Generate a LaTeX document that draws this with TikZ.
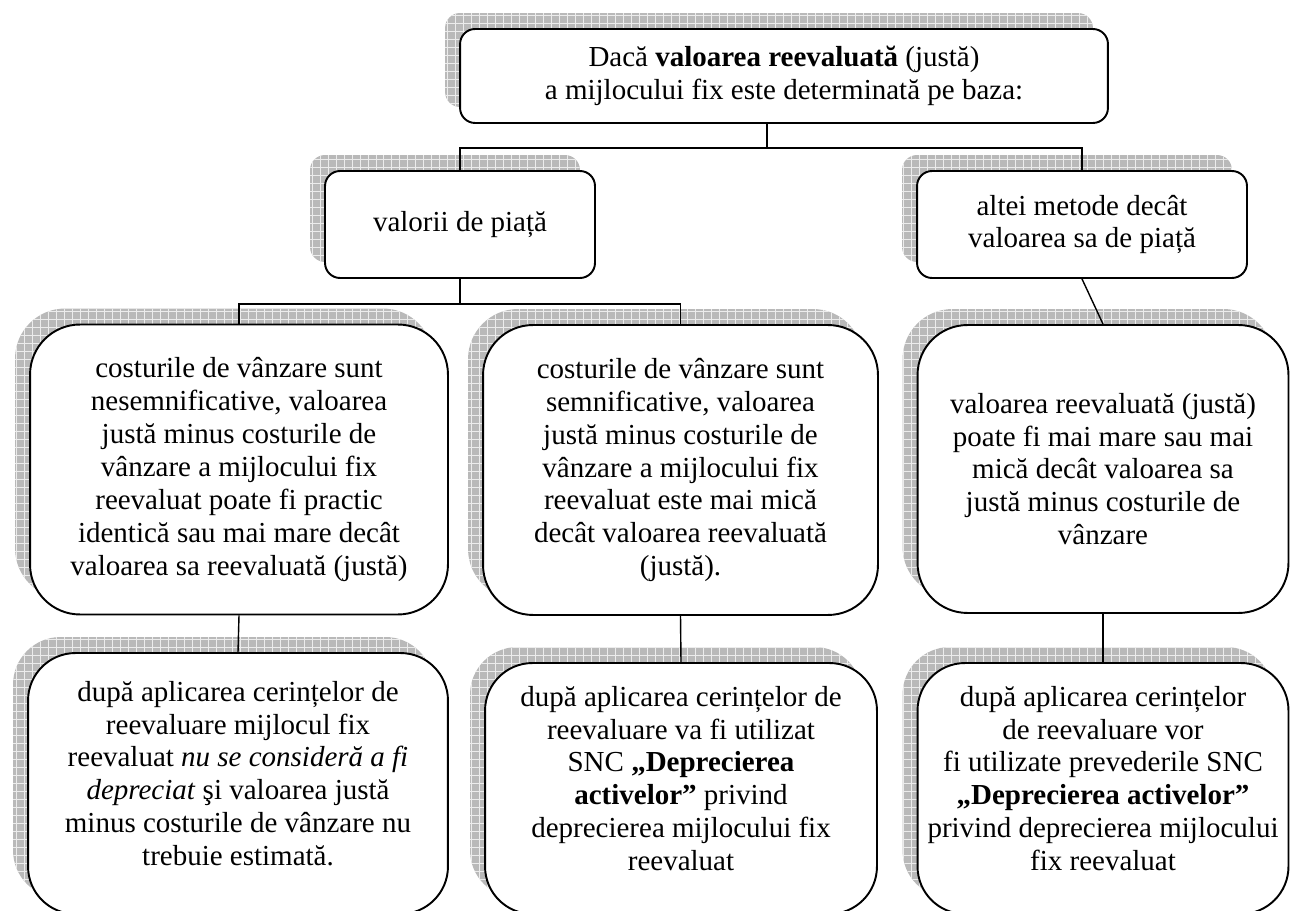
\documentclass[tikz,border=0pt]{standalone}
\usepackage{fontspec}
\setmainfont{Liberation Serif}
\usetikzlibrary{shadows,patterns.meta}
\tikzset{
  box/.style={draw, line width=1.1pt, fill=white, align=center, inner sep=0pt,
    general shadow={fill=gray!55, shadow xshift=-0.3cm, shadow yshift=0.32cm},
    general shadow={pattern={Hatch[angle=0, distance=0.16cm, line width=0.5pt]}, pattern color=gray!15, shadow xshift=-0.3cm, shadow yshift=0.32cm},
    font=\fontsize{16.5}{18.7}\selectfont},
  small/.style={box, rounded corners=0.3cm},
  big/.style={box, rounded corners=1cm},
  link/.style={line width=0.8pt}
}
\begin{document}
\begin{tikzpicture}[x=0.02cm, y=-0.02cm]
\useasboundingbox (0,0) rectangle (1290,911);
\clip (0,0) rectangle (1290,911);
\node[small, minimum width=12.96cm, minimum height=1.88cm] (top) at (784,76) {Dacă \textbf{valoarea reevaluată} (justă)\\a mijlocului fix este determinată pe baza:};
\node[small, minimum width=5.4cm, minimum height=2.14cm] (piata) at (460,224.5) {valorii de piață};
\node[small, minimum width=6.6cm, minimum height=2.14cm] (metoda) at (1082,224.5) {altei metode decât\\valoarea sa de piață};
\node[big, minimum width=8.36cm, minimum height=5.8cm] (nesemn) at (239,469.5) {costurile de vânzare sunt\\nesemnificative, valoarea\\justă minus costurile de\\vânzare a mijlocului fix\\reevaluat poate fi practic\\identică sau mai mare decât\\valoarea sa reevaluată (justă)};
\node[big, minimum width=7.9cm, minimum height=5.8cm] (semn) at (680.5,470) {costurile de vânzare sunt\\semnificative, valoarea\\justă minus costurile de\\vânzare a mijlocului fix\\reevaluat este mai mică\\decât valoarea reevaluată\\(justă).};
\node[big, minimum width=7.42cm, minimum height=5.76cm] (alta) at (1103,469) {valoarea reevaluată (justă)\\poate fi mai mare sau mai\\mică decât valoarea sa\\justă minus costurile de\\vânzare};
\node[big, rounded corners=0.95cm, minimum width=8.4cm, minimum height=5.22cm] (nedepr) at (238,783.5) {după aplicarea cerințelor de\\reevaluare mijlocul fix\\reevaluat \textit{nu se consideră a fi}\\\textit{depreciat} şi valoarea justă\\minus costurile de vânzare nu\\trebuie estimată.\\[-0.25cm]\mbox{}};
\node[big, rounded corners=0.95cm, minimum width=7.84cm, minimum height=5.02cm] (depr) at (681,788.5) {după aplicarea cerințelor de\\reevaluare va fi utilizat\\SNC \textbf{„Deprecierea}\\\textbf{activelor”} privind\\deprecierea mijlocului fix\\reevaluat\\[-0.25cm]\mbox{}};
\node[big, rounded corners=0.95cm, minimum width=7.42cm, minimum height=5.02cm] (prev) at (1103,788.5) {după aplicarea cerințelor\\de reevaluare vor\\fi utilizate prevederile SNC\\\textbf{„Deprecierea activelor”}\\privind deprecierea mijlocului\\fix reevaluat\\[-0.25cm]\mbox{}};
\draw[link] ([xshift=-0.34cm]top.south) -- ++(0,24) coordinate (fork1);
\draw[link] (piata.north) |- (fork1) -| (metoda.north);
\draw[link] (piata.south) -- ++(0,25) coordinate (fork2);
\draw[link] (nesemn.north) |- (fork2) -| (semn.north);
\draw[link] (metoda.south) -- (alta.north);
\draw[link] (nesemn.south) -- (nedepr.north);
\draw[link] (semn.south) -- (depr.north);
\draw[link] (alta.south) -- (prev.north);
\end{tikzpicture}
\end{document}
